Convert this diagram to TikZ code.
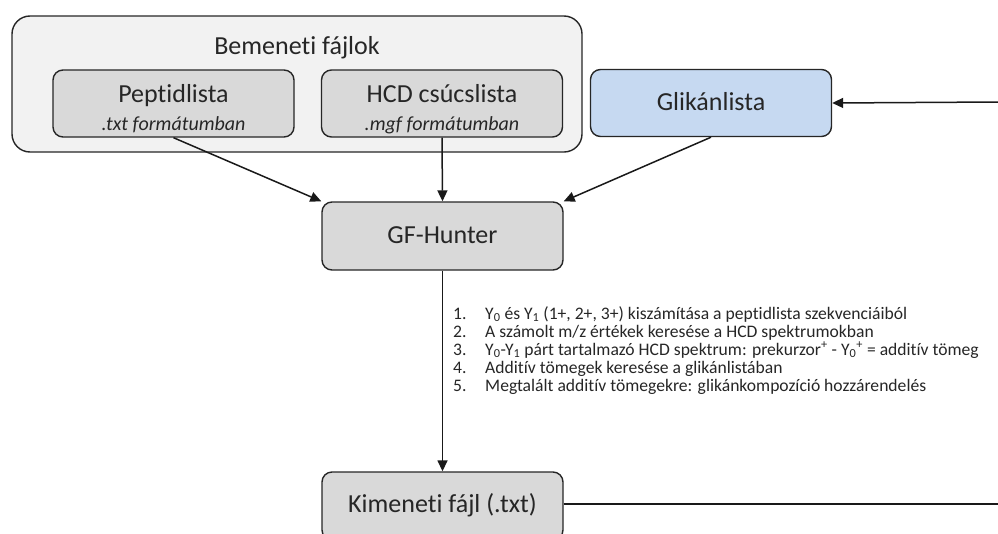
\documentclass[tikz,border=0pt]{standalone}
\usepackage{fontspec}
\setmainfont[Ligatures=NoCommon]{Carlito}
\usetikzlibrary{arrows.meta, positioning}
\definecolor{outerfill}{HTML}{F2F2F2}
\definecolor{boxgray}{HTML}{D9D9D9}
\definecolor{boxblue}{HTML}{C6D9F1}

\begin{document}
\begin{tikzpicture}[x=1pt, y=-1pt,
    box/.style={draw=black!85, line width=1.4pt, rounded corners=10pt,
      fill=boxgray, minimum width=241pt, minimum height=67pt, inner sep=0pt},
    lbl/.style={anchor=base, inner sep=0pt, font=\fontsize{26}{30}\selectfont, text=black!85},
    fmt/.style={anchor=base, inner sep=0pt, font=\fontsize{20}{24}\selectfont\itshape, text=black!85},
    item/.style={anchor=base west, inner sep=0pt, font=\fontsize{17.6}{18}\selectfont, text=black!85},
    arr/.style={-{Triangle[length=11pt, width=10pt]}, line width=1.5pt, black!90},
]
\useasboundingbox (0,0) rectangle (998,533);

% Input files
\node[draw=black!85, line width=1.4pt, rounded corners=18pt, fill=outerfill,
  minimum width=570pt, minimum height=136pt, inner sep=0pt] (inputs) at (297,84) {};
\node[lbl] (inputstitle) at (297,54) {Bemeneti fájlok};

\node[box] (peptid) at (173.5,103.5) {};
\node[lbl] (peptidname) at (173.5,102) {Peptidlista};
\node[fmt] (peptidfmt) at (173.5,130) {.txt formátumban};

\node[box] (hcd) at (442,103.5) {};
\node[lbl] (hcdname) at (442,102) {HCD csúcslista};
\node[fmt] (hcdfmt) at (442,130) {.mgf formátumban};

% Glycan list
\node[box, fill=boxblue] (glycan) at (711,103) {};
\node[lbl] (glycanname) at (711,110) {Glikánlista};
\coordinate (feedin) at (998,102);

% Program
\node[box, minimum height=68pt] (gfh) at (442.5,236) {};
\node[lbl] (gfhname) at (442.5,243) {GF-Hunter};

% Steps
\foreach \i/\txt in {
  1/{Y\textsubscript{0} és Y\textsubscript{1} (1+, 2+, 3+) kiszámítása a peptidlista szekvenciáiból},
  2/{A számolt m/z értékek keresése a HCD spektrumokban},
  3/{Y\textsubscript{0}-Y\textsubscript{1} párt tartalmazó HCD spektrum: prekurzor\textsuperscript{+} - Y\textsubscript{0}\textsuperscript{+} = additív tömeg},
  4/{Additív tömegek keresése a glikánlistában},
  5/{Megtalált additív tömegekre: glikánkompozíció hozzárendelés}} {
  \node[item] (num\i) at (453, 301+\i*18) {\i.};
  \node[item] (step\i) at (485, 301+\i*18) {\txt};
}

% Output
\node[box, minimum height=68pt] (out) at (442.5,506) {};
\node[lbl] (outname) at (442.5,512.5) {Kimeneti fájl (.txt)};
\coordinate (feedout) at (998,504);

% Connectors
\draw[arr] (peptid.south) -- (gfh.north west);
\draw[arr] (hcd.south) -- (gfh.north);
\draw[arr] (glycan.south) -- (gfh.north east);
\draw[arr] (gfh.south) -- (out.north);
\draw[arr] (feedin) -- (glycan.east);
\draw[line width=1.5pt, black!90] (out.east |- feedout) -- (feedout);

\end{tikzpicture}
\end{document}
